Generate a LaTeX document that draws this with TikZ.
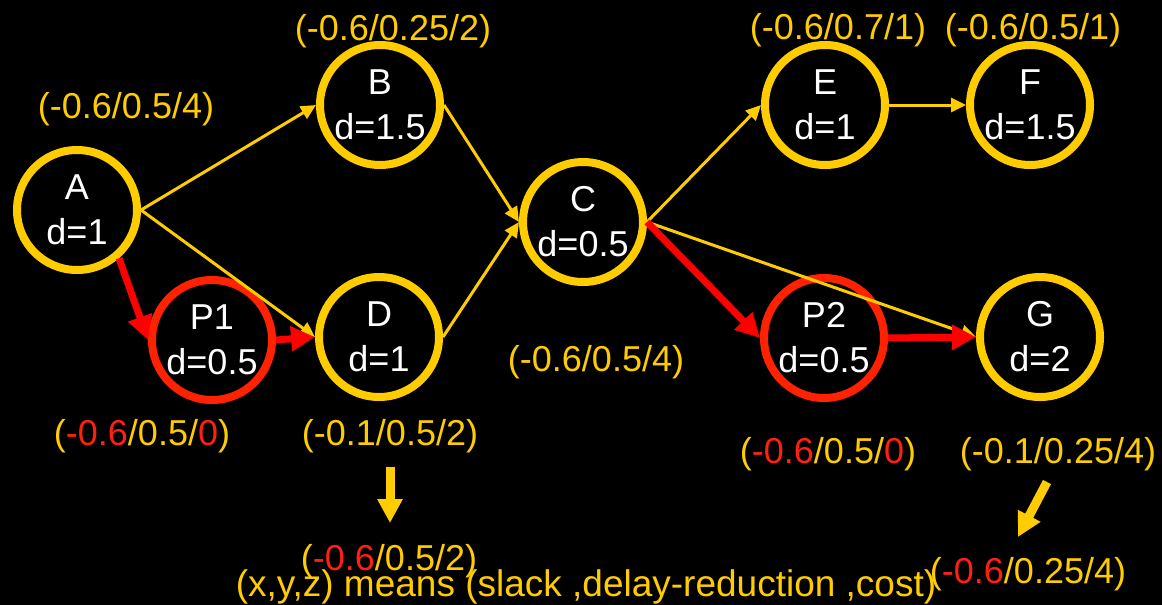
\documentclass[tikz,border=0pt]{standalone}
\usepackage{fontspec}
\setmainfont{Liberation Sans}
\usetikzlibrary{arrows.meta}
\definecolor{yel}{HTML}{FFCC00}
\definecolor{rring}{HTML}{FF2200}
\definecolor{rarr}{HTML}{FF0000}
\definecolor{rtext}{HTML}{FF2010}
\begin{document}
\begin{tikzpicture}[x=1pt,y=-1pt,
  every node/.style={font=\fontsize{36pt}{45pt}\selectfont},
  task/.style={circle,draw=yel,line width=8pt,minimum size=120pt,inner sep=0pt,text=white,align=center},
  crit/.style={task,draw=rring},
  lab/.style={text=yel,inner sep=0pt},
  yarrow/.style={draw=yel,line width=3pt,-{Triangle[length=15pt,width=14pt]}},
  rarrow/.style={draw=rarr,line width=7pt,-{Triangle[length=24pt,width=24pt]}},
  bigarrow/.style={draw=yel,line width=9pt,-{Triangle[length=24pt,width=24pt]}}]
\fill[black] (0,0) rectangle (1162,605);
\useasboundingbox (0,0) rectangle (1162,605);
% nodes
\node[task] (A) at (77,210) {A\\d=1};
\node[task] (B) at (380,105) {B\\d=1.5};
\node[crit] (P1) at (212,340) {P1\\d=0.5};
\node[task] (D) at (379,337) {D\\d=1};
\node[task] (C) at (583,222) {C\\d=0.5};
\node[task] (E) at (825,105) {E\\d=1};
\node[task] (F) at (1030,105) {F\\d=1.5};
\node[crit] (P2) at (824,338) {P2\\d=0.5};
\node[task] (G) at (1040,337) {G\\d=2};
% connectors
\draw[yarrow] (A.east) -- (B.west);
\draw[yarrow] (A.east) -- (D.west);
\draw[yarrow] (B.east) -- (C.west);
\draw[yarrow] (D.east) -- (C.west);
\draw[yarrow] (C.east) -- (E.west);
\draw[yarrow] (E.east) -- (F.west);
\draw[yarrow] (C.east) -- (G.west);
\draw[rarrow] (A.-49) -- (P1.west);
\draw[rarrow] (P1.east) -- (D.west);
\draw[rarrow] (C.east) -- (P2.west);
\draw[rarrow] (P2.east) -- (G.west);
% labels
\node[lab] (LA) at (126,109) {(-0.6/0.5/4)};
\node[lab] (LB) at (393,31) {(-0.6/0.25/2)};
\node[lab] (LE) at (838,30) {(-0.6/0.7/1)};
\node[lab] (LF) at (1033,30) {(-0.6/0.5/1)};
\node[lab] (LC) at (596,362) {(-0.6/0.5/4)};
\node[lab] (LP1) at (142,436) {(\textcolor{rtext}{-0.6}/0.5/\textcolor{rtext}{0})};
\node[lab] (LD) at (390,436) {(-0.1/0.5/2)};
\node[lab] (LD2) at (389,561) {(\textcolor{rtext}{-0.6}/0.5/2)};
\node[lab] (LP2) at (828,454) {(\textcolor{rtext}{-0.6}/0.5/\textcolor{rtext}{0})};
\node[lab] (LG) at (1058,454) {(-0.1/0.25/4)};
\node[lab] (LG2) at (1028,574) {(\textcolor{rtext}{-0.6}/0.25/4)};
\node[lab,font=\fontsize{37pt}{45pt}\selectfont] (legend) at (586,587) {(x,y,z) means (slack ,delay-reduction ,cost)};
% block arrows
\coordinate (d1) at (390,467);
\coordinate (d2) at (390,523);
\coordinate (g1) at (1047,482);
\coordinate (g2) at (1018,537);
\draw[bigarrow] (d1) -- (d2);
\draw[bigarrow] (g1) -- (g2);
\end{tikzpicture}
\end{document}
